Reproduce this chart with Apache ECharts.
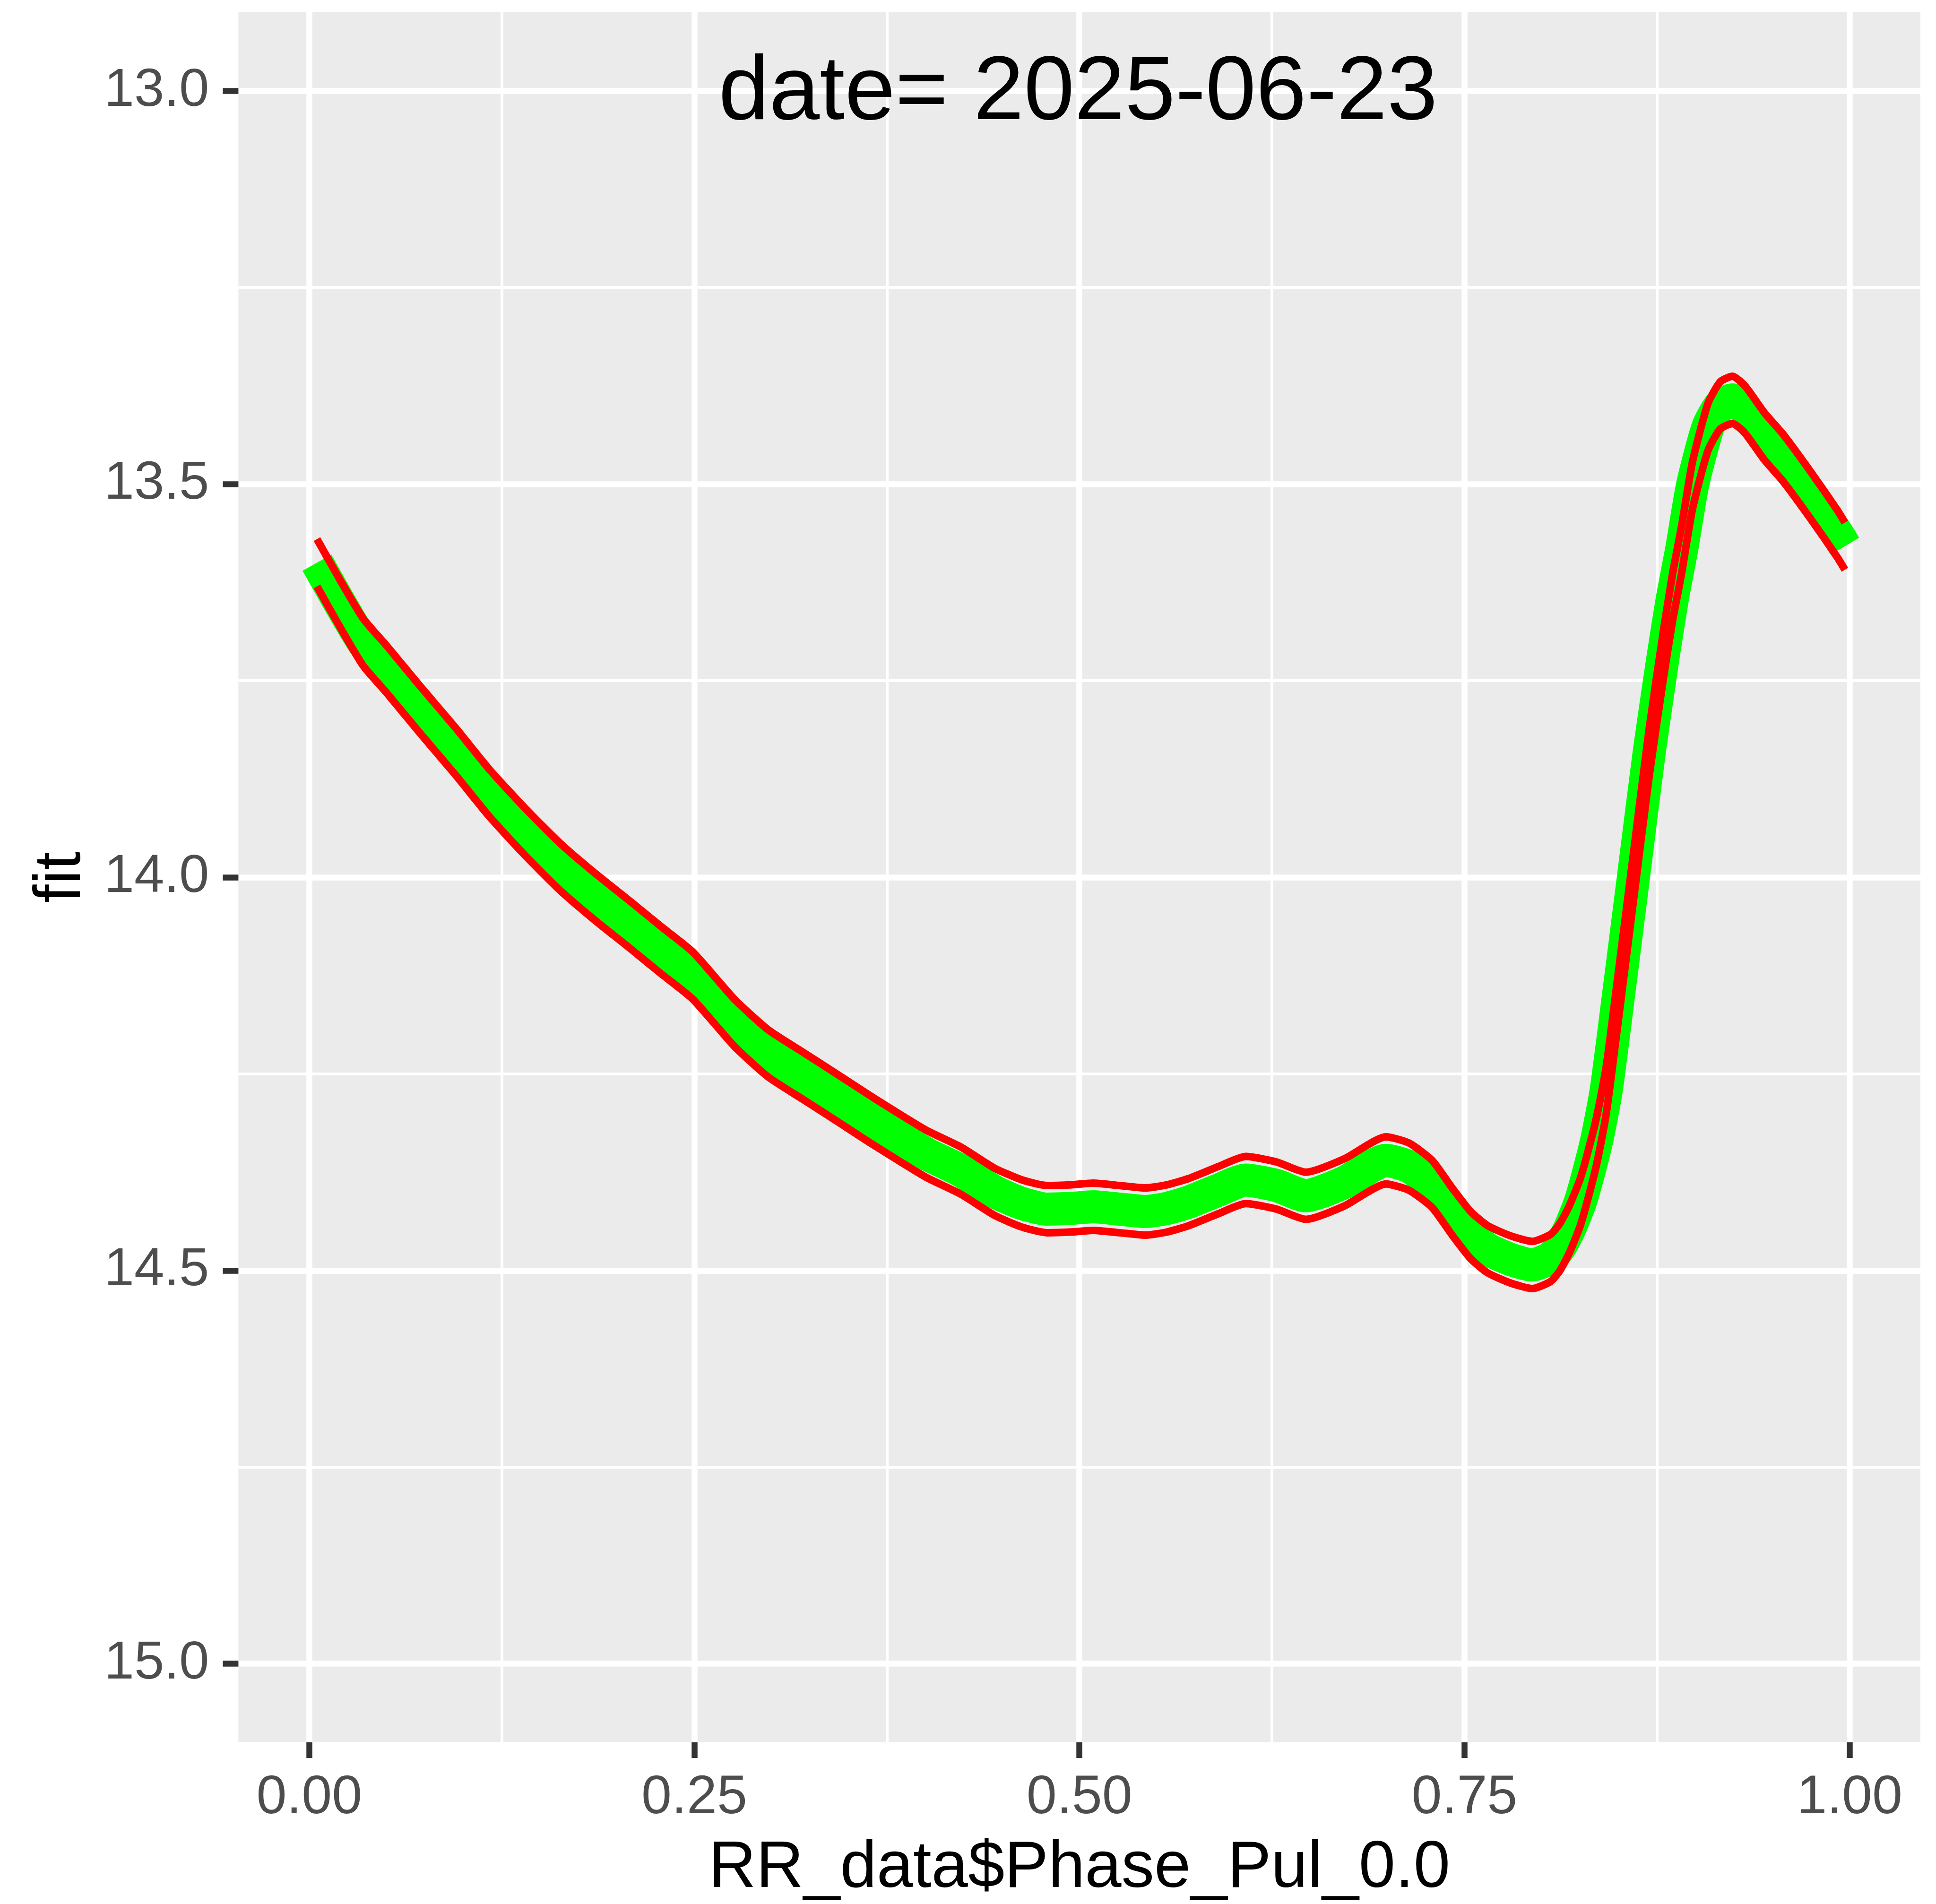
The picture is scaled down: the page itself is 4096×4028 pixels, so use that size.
<!DOCTYPE html>
<html><head><meta charset="utf-8">
<script src="https://cdn.jsdelivr.net/npm/echarts@6/dist/echarts.min.js"></script>
<style>html,body{margin:0;padding:0;background:#fff;} #c{width:4096px;height:4028px;}</style>
</head><body><div id="c"></div>
<script>
const phase = [0.005,0.02,0.035,0.05,0.072,0.095,0.117,0.14,0.163,0.185,0.208,0.228,0.249,0.276,0.298,0.321,0.344,0.366,0.40,0.423,0.445,0.463,0.479,0.495,0.509,0.526,0.543,0.557,0.571,0.59,0.608,0.628,0.647,0.672,0.699,0.714,0.729,0.742,0.754,0.765,0.78,0.794,0.806,0.812,0.818,0.825,0.83,0.836,0.842,0.85,0.86,0.87,0.879,0.885,0.891,0.898,0.908,0.916,0.924,0.932,0.945,0.957,0.975,0.992,0.997];
const fit = [13.600,13.652,13.701,13.735,13.787,13.840,13.893,13.942,13.987,14.024,14.060,14.092,14.125,14.185,14.224,14.253,14.282,14.310,14.351,14.373,14.400,14.415,14.422,14.421,14.419,14.422,14.425,14.421,14.413,14.398,14.385,14.392,14.405,14.388,14.360,14.368,14.390,14.425,14.455,14.473,14.486,14.493,14.484,14.470,14.448,14.414,14.380,14.333,14.271,14.150,13.995,13.840,13.719,13.645,13.583,13.502,13.428,13.400,13.393,13.405,13.440,13.467,13.515,13.563,13.579];
const lwr = [13.570,13.622,13.671,13.705,13.757,13.810,13.863,13.912,13.957,13.994,14.030,14.062,14.095,14.155,14.194,14.223,14.252,14.280,14.321,14.343,14.370,14.385,14.392,14.391,14.389,14.392,14.395,14.391,14.383,14.368,14.355,14.362,14.375,14.358,14.330,14.338,14.360,14.395,14.425,14.443,14.456,14.463,14.454,14.440,14.418,14.384,14.350,14.303,14.241,14.120,13.965,13.810,13.689,13.615,13.553,13.472,13.398,13.370,13.363,13.375,13.410,13.437,13.485,13.533,13.549];
const upr = [13.630,13.682,13.731,13.765,13.817,13.870,13.923,13.972,14.017,14.054,14.090,14.122,14.155,14.215,14.254,14.283,14.312,14.340,14.381,14.403,14.430,14.445,14.452,14.451,14.449,14.452,14.455,14.451,14.443,14.428,14.415,14.422,14.435,14.418,14.390,14.398,14.420,14.455,14.485,14.503,14.516,14.523,14.514,14.500,14.478,14.444,14.410,14.363,14.301,14.180,14.025,13.870,13.749,13.675,13.613,13.532,13.458,13.430,13.423,13.435,13.470,13.497,13.545,13.593,13.609];
const xTicks = [0, 0.25, 0.5, 0.75, 1];
const xMinor = [0.125, 0.375, 0.625, 0.875];
const yTicks = [13, 13.5, 14, 14.5, 15];
const yMinor = [13.25, 13.75, 14.25, 14.75];
const titleText = 'date= 2025-06-23';
const xName = 'RR_data$Phase_Pul_0.0';
const yName = 'fit';

const FONT = '"Liberation Sans", Arial, Helvetica, sans-serif';
const pair = ys => phase.map((x, i) => [x, ys[i]]);
const chart = echarts.init(document.getElementById('c'), null, {renderer: 'canvas'});
const XMIN = -0.046, XMAX = 1.046, YMIN = 12.9, YMAX = 15.1;
const SM = 0.2;
chart.setOption({
  animation: false,
  backgroundColor: '#ffffff',
  grid: {left: 504.4, right: 33, top: 25.8, bottom: 331.5, show: true, backgroundColor: '#EBEBEB', borderWidth: 0},
  xAxis: [
    {type: 'value', min: XMIN, max: XMAX,
     axisLine: {show: false, onZero: false},
     axisTick: {show: true, customValues: xTicks, length: 33, lineStyle: {color: '#333333', width: 12.5}},
     axisLabel: {customValues: xTicks, formatter: v => v.toFixed(2), color: '#4D4D4D', fontSize: 115, fontFamily: FONT, margin: 61},
     splitLine: {show: true, lineStyle: {color: '#FFFFFF', width: 12.5}},
     name: xName, nameLocation: 'middle', nameGap: 198,
     nameTextStyle: {color: '#000000', fontSize: 139, fontFamily: FONT}},
    {type: 'value', min: XMIN, max: XMAX, position: 'bottom',
     axisLine: {show: false, onZero: false},
     axisTick: {show: false, customValues: xMinor},
     axisLabel: {show: false, customValues: xMinor},
     splitLine: {show: true, lineStyle: {color: '#FFFFFF', width: 6}}}
  ],
  yAxis: [
    {type: 'value', min: YMIN, max: YMAX, inverse: true,
     axisLine: {show: false, onZero: false},
     axisTick: {show: true, customValues: yTicks, length: 33, lineStyle: {color: '#333333', width: 12.5}},
     axisLabel: {customValues: yTicks, formatter: v => v.toFixed(1), color: '#4D4D4D', fontSize: 114, fontFamily: FONT, margin: 62, padding: [6, 0, 0, 0]},
     splitLine: {show: true, lineStyle: {color: '#FFFFFF', width: 12.5}},
     name: yName, nameLocation: 'middle', nameGap: 304, nameRotate: 90,
     nameTextStyle: {color: '#000000', fontSize: 139, fontFamily: FONT}},
    {type: 'value', min: YMIN, max: YMAX, inverse: true, position: 'left',
     axisLine: {show: false, onZero: false},
     axisTick: {show: false, customValues: yMinor},
     axisLabel: {show: false, customValues: yMinor},
     splitLine: {show: true, lineStyle: {color: '#FFFFFF', width: 6}}}
  ],
  series: [
    {type: 'line', name: 'fit', xAxisIndex: 0, yAxisIndex: 0, data: pair(fit), symbol: 'none', showSymbol: false, silent: true, z: 2,
     smooth: SM,
     lineStyle: {color: '#00FF00', width: 70, cap: 'butt', join: 'round'}},
    {type: 'line', name: 'lwr', xAxisIndex: 0, yAxisIndex: 0, data: pair(lwr), symbol: 'none', showSymbol: false, silent: true, z: 3,
     smooth: SM,
     lineStyle: {color: '#FF0000', width: 16, cap: 'butt', join: 'round'}},
    {type: 'line', name: 'upr', xAxisIndex: 0, yAxisIndex: 0, data: pair(upr), symbol: 'none', showSymbol: false, silent: true, z: 3,
     smooth: SM,
     lineStyle: {color: '#FF0000', width: 16, cap: 'butt', join: 'round'}}
  ],
  graphic: [
    {type: 'text', x: 2281, y: 199.5, silent: true, z: 100, zlevel: 0,
     style: {text: titleText, fill: '#000000', font: '192px ' + FONT, textAlign: 'center', textVerticalAlign: 'middle', align: 'center', verticalAlign: 'middle'}}
  ]
});
</script></body></html>
